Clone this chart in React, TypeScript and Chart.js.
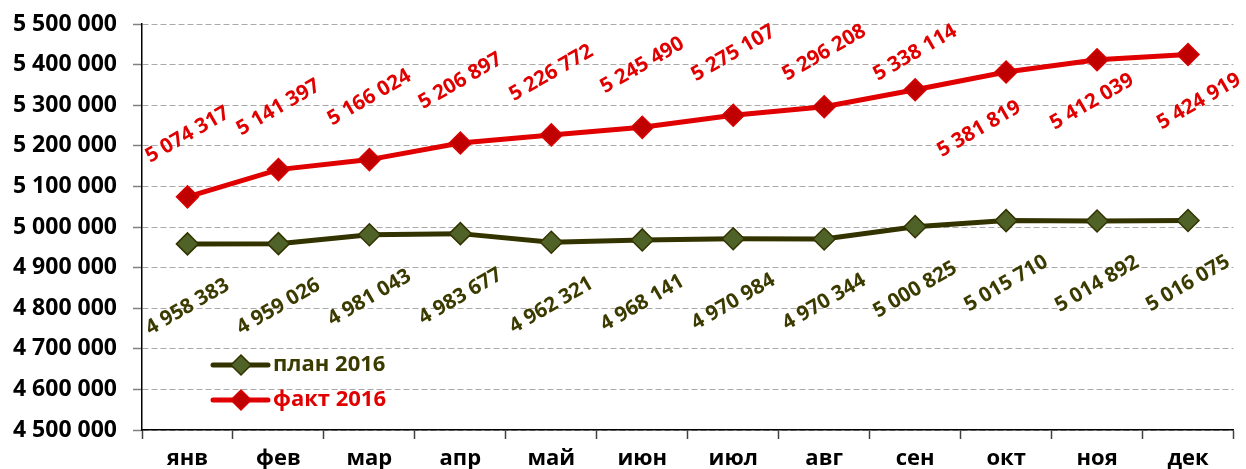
import React, { useEffect, useRef } from 'react';
import { Chart, registerables } from 'chart.js';

Chart.register(...registerables);

const months = ['янв', 'фев', 'мар', 'апр', 'май', 'июн', 'июл', 'авг', 'сен', 'окт', 'ноя', 'дек'];
const plan2016 = [4958383, 4959026, 4981043, 4983677, 4962321, 4968141, 4970984, 4970344, 5000825, 5015710, 5014892, 5016075];
const fact2016 = [5074317, 5141397, 5166024, 5206897, 5226772, 5245490, 5275107, 5296208, 5338114, 5381819, 5412039, 5424919];
const seriesNames = ['план 2016', 'факт 2016'];
const yMin = 4500000;
const yMax = 5500000;
const yStep = 100000;

// label placement relative to each point (style, not data)
const planLabelShift = months.map(() => [0, 63]);
const factLabelShift = [
  [0, -62], [0, -62], [0, -62], [0, -62], [0, -62], [0, -62], [0, -62], [0, -62], [0, -62],
  [-27, 57], [-5, 42], [11, 47],
];

const FONT = '"Open Sans", "Noto Sans", sans-serif';
const PLAN_LINE = '#333300';
const PLAN_FILL = '#4F6228';
const PLAN_TEXT = '#3B3B00';
const FACT_LINE = '#E00000';
const FACT_FILL = '#C00000';
const FACT_TEXT = '#E00000';

const fmt = (v: number) => Math.round(v).toString().replace(/\B(?=(\d{3})+(?!\d))/g, ' ');

const labelPlugin = {
  id: 'rotLabels',
  afterDatasetsDraw(chart: any) {
    const ctx = chart.ctx;
    const area = chart.chartArea;
    const shifts = [planLabelShift, factLabelShift];
    const colors = [PLAN_TEXT, FACT_TEXT];
    chart.data.datasets.forEach((ds: any, di: number) => {
      const meta = chart.getDatasetMeta(di);
      meta.data.forEach((pt: any, i: number) => {
        const [dx, dy] = shifts[di][i];
        const text = fmt(ds.data[i]);
        ctx.save();
        ctx.font = `bold 20.5px ${FONT}`;
        const w = ctx.measureText(text).width;
        const h = 15;
        const a = Math.PI / 6;
        const bw = w * Math.cos(a) + h * Math.sin(a);
        const bh = w * Math.sin(a) + h * Math.cos(a);
        let cx = pt.x + dx;
        let cy = pt.y + dy;
        cy = Math.max(cy, area.top - 1 + bh / 2);
        cx = Math.min(cx, chart.width - bw / 2);
        ctx.translate(cx, cy);
        ctx.rotate(-a);
        ctx.fillStyle = colors[di];
        ctx.textAlign = 'center';
        ctx.textBaseline = 'middle';
        ctx.fillText(text, 0, 0);
        ctx.restore();
      });
    });
  },
};

const legendPlugin = {
  id: 'innerLegend',
  afterDraw(chart: any) {
    const ctx = chart.ctx;
    const area = chart.chartArea;
    const x0 = area.left + 71;
    const y0 = area.top + 341;
    const lineColors = [PLAN_LINE, FACT_LINE];
    const fills = [PLAN_FILL, FACT_FILL];
    const borders = [PLAN_LINE, '#D80000'];
    const textColors = [PLAN_TEXT, FACT_TEXT];
    chart.data.datasets.forEach((ds: any, i: number) => {
      const y = y0 + i * 35;
      ctx.save();
      ctx.strokeStyle = lineColors[i];
      ctx.lineWidth = 5;
      ctx.lineCap = 'round';
      ctx.beginPath();
      ctx.moveTo(x0, y);
      ctx.lineTo(x0 + 55, y);
      ctx.stroke();
      const mx = x0 + 28;
      const r = 10;
      ctx.beginPath();
      ctx.moveTo(mx, y - r);
      ctx.lineTo(mx + r, y);
      ctx.lineTo(mx, y + r);
      ctx.lineTo(mx - r, y);
      ctx.closePath();
      ctx.fillStyle = fills[i];
      ctx.fill();
      ctx.lineWidth = 1.5;
      ctx.strokeStyle = borders[i];
      ctx.stroke();
      ctx.font = `bold 22px ${FONT}`;
      ctx.fillStyle = textColors[i];
      ctx.textAlign = 'left';
      ctx.textBaseline = 'middle';
      ctx.fillText(ds.label, x0 + 60, y);
      ctx.restore();
    });
  },
};

export default function App() {
  const ref = useRef<HTMLCanvasElement | null>(null);

  useEffect(() => {
    if (!ref.current) return;
    const chart = new Chart(ref.current, {
      type: 'line',
      data: {
        labels: months,
        datasets: [
          {
            label: seriesNames[0],
            data: plan2016,
            borderColor: PLAN_LINE,
            borderWidth: 5,
            pointStyle: 'rectRot',
            pointRadius: 11,
            pointBackgroundColor: PLAN_FILL,
            pointBorderColor: PLAN_LINE,
            pointBorderWidth: 1.5,
            tension: 0,
            fill: false,
          },
          {
            label: seriesNames[1],
            data: fact2016,
            borderColor: FACT_LINE,
            borderWidth: 5,
            pointStyle: 'rectRot',
            pointRadius: 11,
            pointBackgroundColor: FACT_FILL,
            pointBorderColor: '#D80000',
            pointBorderWidth: 1.5,
            tension: 0,
            fill: false,
          },
        ],
      },
      options: {
        responsive: true,
        maintainAspectRatio: false,
        animation: false,
        layout: { padding: { top: 24, right: 9, left: 0, bottom: 0 } },
        plugins: {
          legend: { display: false },
          tooltip: { enabled: false },
        },
        scales: {
          x: {
            type: 'category',
            offset: true,
            afterFit: (s: any) => { s.height = 39; s.paddingLeft = 0; s.paddingRight = 0; },
            grid: {
              offset: true,
              drawOnChartArea: false,
              drawTicks: true,
              tickLength: 9,
              tickColor: '#404040',
              tickWidth: 1.5,
            },
            border: { display: true, color: '#000000', width: 1.5 },
            ticks: {
              color: '#000000',
              padding: 7,
              maxRotation: 0,
              autoSkip: false,
              font: { family: FONT, size: 22, weight: 'bold' },
            },
          },
          y: {
            min: yMin,
            max: yMax,
            afterFit: (s: any) => { s.width = 142; s.paddingTop = 0; s.paddingBottom = 0; },
            grid: {
              color: '#AAAAAA',
              lineWidth: 1,
              tickLength: 9,
              tickColor: '#808080',
              tickWidth: 1.5,
            },
            border: { display: true, color: '#000000', width: 1.5, dash: [6, 3] },
            ticks: {
              stepSize: yStep,
              autoSkip: false,
              color: '#000000',
              padding: 16,
              font: { family: FONT, size: 23, weight: 'bold' },
              callback: (v: any) => fmt(Number(v)),
            },
          },
        },
      },
      plugins: [labelPlugin, legendPlugin],
    });
    return () => chart.destroy();
  }, []);

  return (
    <div style={{ position: 'absolute', left: 0, top: 0, width: 1246, height: 469 }}>
      <canvas ref={ref} />
    </div>
  );
}
